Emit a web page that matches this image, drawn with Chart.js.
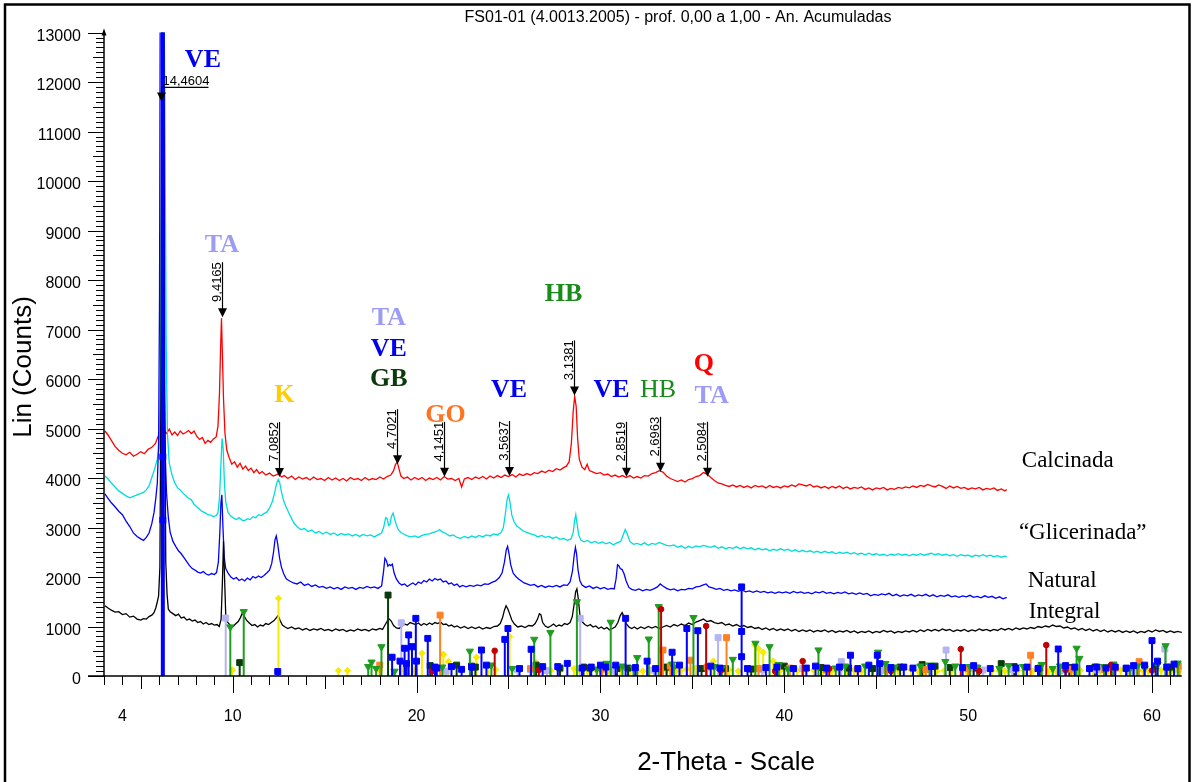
<!DOCTYPE html>
<html><head><meta charset="utf-8">
<script src="https://cdn.jsdelivr.net/npm/chart.js@4/dist/chart.umd.min.js"></script>
<style>html,body{margin:0;padding:0;background:#fff;overflow:hidden}canvas{display:block}</style>
</head><body>
<canvas id="c" width="1192" height="782"></canvas>
<script>
// ---------------- DATA ----------------
const calcinada = [[3.05,4950],[3.2,4880],[3.4,4760],[3.6,4640],[3.8,4560],[4.0,4500],[4.2,4470],[4.4,4520],[4.6,4440],[4.8,4480],[5.0,4530],[5.2,4490],[5.4,4580],[5.6,4620],[5.8,4700],[5.95,4850],[6.05,4980],[6.15,5090],[6.25,4960],[6.4,4900],[6.55,4990],[6.7,4870],[6.85,4930],[7.0,4860],[7.15,4950],[7.3,4890],[7.45,4920],[7.6,4960],[7.75,4900],[7.9,4950],[8.05,4840],[8.2,4780],[8.35,4820],[8.5,4700],[8.65,4760],[8.8,4720],[8.95,4790],[9.1,4830],[9.2,5050],[9.28,5700],[9.34,6600],[9.39,7230],[9.44,6500],[9.5,5600],[9.58,4900],[9.68,4560],[9.8,4420],[9.95,4280],[10.1,4330],[10.25,4220],[10.4,4300],[10.55,4180],[10.7,4240],[10.85,4150],[11.0,4200],[11.15,4110],[11.3,4170],[11.45,4090],[11.6,4130],[11.8,4060],[12.0,4100],[12.2,4040],[12.4,4070],[12.5,4090],[12.65,4020],[12.8,4050],[13.0,3990],[13.2,4040],[13.4,3970],[13.6,4020],[13.8,3980],[14.0,4010],[14.2,3960],[14.4,4020],[14.6,3970],[14.8,3990],[15.0,3950],[15.2,4010],[15.4,3960],[15.6,4000],[15.8,3950],[16.0,3990],[16.2,3940],[16.4,4010],[16.6,3970],[16.8,3990],[17.0,3950],[17.2,4010],[17.4,3960],[17.6,3990],[17.8,3970],[18.0,4020],[18.2,3980],[18.4,4030],[18.6,4060],[18.75,4150],[18.85,4270],[18.95,4320],[19.05,4180],[19.15,4040],[19.3,3990],[19.5,4020],[19.7,3960],[19.9,4010],[20.1,3970],[20.3,4010],[20.5,3950],[20.7,4000],[20.9,3970],[21.1,4010],[21.3,3960],[21.5,4030],[21.7,3980],[21.9,3990],[22.1,3950],[22.3,3990],[22.45,3820],[22.6,3980],[22.8,4010],[23.0,3970],[23.2,4020],[23.4,3990],[23.6,4030],[23.8,3980],[24.0,4040],[24.2,4000],[24.4,4050],[24.6,4010],[24.8,4060],[25.0,4030],[25.2,4070],[25.4,4020],[25.6,4080],[25.8,4050],[26.0,4090],[26.2,4060],[26.4,4110],[26.6,4090],[26.8,4140],[27.0,4110],[27.2,4160],[27.4,4130],[27.6,4190],[27.8,4160],[28.0,4210],[28.15,4240],[28.3,4330],[28.42,4700],[28.52,5350],[28.6,5650],[28.68,5450],[28.76,4800],[28.85,4380],[29.0,4220],[29.15,4170],[29.28,4280],[29.4,4150],[29.6,4120],[29.8,4090],[30.0,4110],[30.2,4060],[30.4,4080],[30.6,4030],[30.8,4060],[31.0,4020],[31.2,4050],[31.4,4010],[31.6,4050],[31.8,4000],[32.0,4030],[32.2,4000],[32.4,4050],[32.6,4040],[32.8,4090],[33.0,4110],[33.2,4150],[33.4,4120],[33.6,4040],[33.8,3990],[34.0,3960],[34.2,3930],[34.4,3960],[34.6,3920],[34.8,3970],[35.0,3990],[35.2,4030],[35.4,4050],[35.6,4110],[35.8,4080],[36.0,4010],[36.2,3950],[36.4,3900],[36.6,3880],[36.8,3850],[37.0,3830],[37.2,3860],[37.4,3820],[37.6,3850],[37.8,3810],[38.0,3840],[38.2,3800],[38.4,3850],[38.6,3820],[38.8,3840],[39.0,3800],[39.2,3850],[39.4,3810],[39.6,3830],[39.8,3800],[40.0,3840],[40.2,3820],[40.4,3860],[40.6,3830],[40.8,3880],[41.0,3860],[41.2,3840],[41.4,3870],[41.6,3820],[41.8,3840],[42.0,3800],[42.2,3830],[42.4,3790],[42.6,3830],[42.8,3800],[43.0,3840],[43.2,3790],[43.4,3820],[43.6,3780],[43.8,3810],[44.0,3790],[44.2,3820],[44.4,3770],[44.6,3800],[44.8,3760],[45.0,3800],[45.2,3780],[45.4,3810],[45.6,3760],[45.8,3790],[46.0,3770],[46.2,3810],[46.4,3790],[46.6,3820],[46.8,3800],[47.0,3840],[47.2,3810],[47.4,3850],[47.6,3830],[47.8,3870],[48.0,3840],[48.2,3820],[48.4,3860],[48.6,3830],[48.8,3790],[49.0,3840],[49.2,3800],[49.4,3830],[49.6,3790],[49.8,3810],[50.0,3770],[50.2,3800],[50.4,3780],[50.6,3810],[50.8,3760],[51.0,3790],[51.2,3770],[51.4,3800],[51.6,3750],[51.8,3780],[52.0,3740],[52.1,3770]];

const glicerinada = [[3.05,4040],[3.2,3990],[3.4,3900],[3.6,3820],[3.8,3740],[4.0,3690],[4.2,3640],[4.4,3600],[4.6,3630],[4.8,3660],[5.0,3690],[5.15,3710],[5.3,3760],[5.45,3840],[5.6,4010],[5.75,4180],[5.9,4380],[6.0,4600],[6.08,6200],[6.15,11000],[6.22,16000],[6.3,12000],[6.38,6800],[6.45,4900],[6.55,4300],[6.7,4060],[6.85,3900],[7.0,3800],[7.15,3760],[7.3,3690],[7.45,3640],[7.6,3590],[7.75,3560],[7.9,3470],[8.05,3420],[8.2,3370],[8.35,3320],[8.5,3300],[8.65,3260],[8.8,3250],[8.95,3220],[9.1,3240],[9.2,3300],[9.28,3600],[9.35,4200],[9.42,4800],[9.48,4600],[9.55,3900],[9.62,3520],[9.75,3300],[9.9,3230],[10.05,3190],[10.2,3160],[10.35,3200],[10.5,3150],[10.65,3140],[10.8,3180],[10.95,3160],[11.1,3220],[11.25,3200],[11.4,3260],[11.55,3240],[11.7,3280],[11.85,3310],[12.0,3390],[12.15,3520],[12.28,3700],[12.38,3880],[12.48,3970],[12.56,3900],[12.65,3720],[12.78,3530],[12.9,3420],[13.05,3300],[13.2,3180],[13.35,3080],[13.5,3020],[13.7,2960],[13.9,2980],[14.1,2920],[14.3,2950],[14.5,2890],[14.7,2920],[14.9,2870],[15.1,2910],[15.3,2860],[15.5,2890],[15.7,2840],[15.9,2880],[16.1,2850],[16.3,2870],[16.5,2830],[16.7,2860],[16.9,2820],[17.1,2860],[17.3,2830],[17.5,2850],[17.7,2810],[17.9,2850],[18.1,2890],[18.22,3020],[18.32,3200],[18.4,3180],[18.48,3040],[18.55,3060],[18.63,3220],[18.72,3290],[18.8,3180],[18.9,3050],[19.0,2960],[19.15,2900],[19.3,2870],[19.5,2830],[19.7,2810],[19.9,2830],[20.1,2800],[20.3,2840],[20.5,2860],[20.7,2870],[20.9,2900],[21.1,2920],[21.25,2960],[21.4,2910],[21.6,2880],[21.8,2830],[22.0,2850],[22.2,2800],[22.4,2780],[22.6,2820],[22.8,2790],[23.0,2830],[23.2,2800],[23.4,2840],[23.6,2810],[23.8,2850],[24.0,2830],[24.2,2870],[24.4,2850],[24.6,2900],[24.72,3000],[24.82,3250],[24.92,3560],[25.0,3660],[25.08,3520],[25.18,3250],[25.3,3120],[25.45,3030],[25.6,2990],[25.8,2930],[26.0,2900],[26.2,2870],[26.4,2850],[26.6,2810],[26.8,2840],[27.0,2800],[27.2,2820],[27.4,2780],[27.6,2810],[27.8,2760],[28.0,2780],[28.2,2740],[28.4,2770],[28.52,2900],[28.6,3150],[28.66,3260],[28.72,3100],[28.82,2850],[28.95,2740],[29.1,2710],[29.3,2740],[29.5,2690],[29.7,2720],[29.9,2680],[30.1,2710],[30.3,2670],[30.5,2700],[30.7,2650],[30.9,2690],[31.1,2720],[31.25,2860],[31.35,2960],[31.45,2880],[31.6,2720],[31.8,2660],[32.0,2680],[32.2,2650],[32.4,2690],[32.6,2640],[32.8,2680],[33.0,2660],[33.2,2700],[33.4,2670],[33.6,2640],[33.8,2630],[34.0,2650],[34.2,2600],[34.4,2630],[34.6,2580],[34.8,2620],[35.0,2590],[35.2,2630],[35.4,2610],[35.6,2640],[35.8,2620],[36.0,2600],[36.2,2630],[36.4,2580],[36.6,2610],[36.8,2570],[37.0,2600],[37.2,2580],[37.4,2610],[37.6,2570],[37.8,2600],[38.0,2570],[38.2,2590],[38.4,2550],[38.6,2580],[38.8,2550],[39.0,2570],[39.2,2530],[39.4,2560],[39.6,2540],[39.8,2570],[40.0,2540],[40.2,2560],[40.4,2520],[40.6,2550],[40.8,2510],[41.0,2540],[41.2,2510],[41.4,2530],[41.6,2500],[41.8,2520],[42.0,2490],[42.2,2520],[42.4,2490],[42.6,2510],[42.8,2470],[43.0,2500],[43.2,2480],[43.4,2500],[43.6,2470],[43.8,2490],[44.0,2460],[44.2,2480],[44.4,2450],[44.6,2480],[44.8,2450],[45.0,2470],[45.2,2440],[45.4,2460],[45.6,2430],[45.8,2460],[46.0,2440],[46.2,2470],[46.4,2440],[46.6,2460],[46.8,2430],[47.0,2460],[47.2,2440],[47.4,2470],[47.6,2440],[47.8,2460],[48.0,2480],[48.2,2450],[48.4,2470],[48.6,2440],[48.8,2460],[49.0,2430],[49.2,2450],[49.4,2420],[49.6,2450],[49.8,2430],[50.0,2440],[50.2,2410],[50.4,2440],[50.6,2420],[50.8,2450],[51.0,2420],[51.2,2440],[51.4,2410],[51.6,2430],[51.8,2400],[52.0,2420],[52.1,2410]];

const natural = [[3.05,3680],[3.2,3600],[3.4,3500],[3.6,3420],[3.8,3330],[4.0,3260],[4.2,3130],[4.4,3020],[4.6,2890],[4.8,2820],[5.0,2770],[5.15,2740],[5.3,2800],[5.45,2890],[5.6,3080],[5.72,3300],[5.82,3600],[5.9,3900],[5.97,4700],[6.02,7600],[6.06,14000],[6.11,17000],[6.16,14000],[6.21,9000],[6.26,6300],[6.32,4600],[6.4,3700],[6.5,3200],[6.6,2900],[6.75,2720],[6.9,2620],[7.05,2530],[7.2,2470],[7.35,2390],[7.5,2310],[7.65,2230],[7.8,2170],[7.95,2140],[8.1,2100],[8.25,2080],[8.4,2110],[8.55,2060],[8.7,2040],[8.85,2070],[9.0,2050],[9.12,2090],[9.22,2300],[9.3,2900],[9.36,3500],[9.41,3660],[9.47,3000],[9.54,2400],[9.62,2170],[9.75,2080],[9.9,2000],[10.05,1960],[10.2,1990],[10.35,1930],[10.5,1960],[10.65,1920],[10.8,1980],[10.95,1940],[11.1,2010],[11.25,1980],[11.4,2020],[11.55,1990],[11.7,2030],[11.85,2080],[12.0,2140],[12.12,2270],[12.22,2500],[12.3,2750],[12.37,2830],[12.45,2660],[12.55,2380],[12.65,2200],[12.78,2060],[12.92,1960],[13.1,1920],[13.3,1880],[13.5,1860],[13.7,1900],[13.9,1830],[14.1,1860],[14.3,1810],[14.5,1840],[14.7,1790],[14.9,1810],[15.1,1770],[15.3,1800],[15.5,1760],[15.7,1790],[15.9,1750],[16.1,1800],[16.3,1770],[16.5,1790],[16.7,1750],[16.9,1790],[17.1,1770],[17.3,1810],[17.5,1780],[17.7,1800],[17.9,1770],[18.1,1820],[18.2,2100],[18.28,2380],[18.36,2330],[18.44,2220],[18.52,2250],[18.6,2230],[18.68,2260],[18.78,2080],[18.9,1960],[19.05,1880],[19.2,1840],[19.35,1860],[19.5,1810],[19.65,1850],[19.8,1880],[19.95,1840],[20.1,1900],[20.25,1870],[20.4,1930],[20.55,1900],[20.7,1960],[20.85,1920],[21.0,1970],[21.15,1940],[21.3,1960],[21.45,1900],[21.6,1920],[21.75,1860],[21.9,1880],[22.05,1830],[22.2,1860],[22.35,1800],[22.5,1830],[22.7,1800],[22.9,1830],[23.1,1810],[23.3,1840],[23.5,1820],[23.7,1860],[23.9,1850],[24.1,1890],[24.3,1920],[24.5,1990],[24.65,2080],[24.78,2300],[24.88,2550],[24.95,2620],[25.03,2470],[25.12,2250],[25.25,2080],[25.4,2010],[25.55,1960],[25.7,1920],[25.85,1880],[26.0,1860],[26.2,1830],[26.4,1850],[26.6,1800],[26.8,1830],[27.0,1790],[27.2,1820],[27.4,1800],[27.6,1830],[27.8,1800],[28.0,1840],[28.2,1830],[28.35,1900],[28.48,2120],[28.57,2430],[28.64,2600],[28.7,2480],[28.78,2150],[28.88,1930],[29.0,1840],[29.2,1790],[29.4,1820],[29.6,1770],[29.8,1800],[30.0,1760],[30.2,1790],[30.4,1750],[30.6,1770],[30.75,1760],[30.85,1960],[30.93,2250],[31.0,2230],[31.08,2170],[31.18,2150],[31.28,2070],[31.4,1920],[31.55,1790],[31.7,1750],[31.9,1730],[32.1,1760],[32.3,1720],[32.5,1750],[32.7,1730],[32.9,1760],[33.1,1800],[33.25,1860],[33.4,1820],[33.6,1770],[33.8,1740],[34.0,1760],[34.2,1720],[34.4,1750],[34.6,1740],[34.8,1770],[35.0,1760],[35.2,1800],[35.4,1810],[35.6,1840],[35.75,1860],[35.9,1800],[36.1,1780],[36.3,1750],[36.5,1770],[36.7,1730],[36.9,1750],[37.1,1720],[37.3,1740],[37.5,1710],[37.7,1740],[37.9,1700],[38.1,1720],[38.3,1690],[38.5,1720],[38.7,1690],[38.9,1710],[39.1,1680],[39.3,1700],[39.5,1670],[39.7,1700],[39.9,1680],[40.1,1700],[40.3,1670],[40.5,1710],[40.7,1680],[40.9,1700],[41.1,1670],[41.3,1690],[41.5,1660],[41.7,1700],[41.9,1680],[42.1,1710],[42.3,1670],[42.5,1690],[42.7,1660],[42.9,1690],[43.1,1670],[43.3,1700],[43.5,1660],[43.7,1680],[43.9,1650],[44.1,1680],[44.3,1650],[44.5,1670],[44.7,1620],[44.9,1650],[45.1,1630],[45.3,1660],[45.5,1640],[45.7,1670],[45.9,1620],[46.1,1650],[46.3,1610],[46.5,1640],[46.7,1620],[46.9,1650],[47.1,1610],[47.3,1640],[47.5,1620],[47.7,1650],[47.9,1610],[48.1,1640],[48.3,1600],[48.5,1630],[48.7,1610],[48.9,1640],[49.1,1600],[49.3,1620],[49.5,1590],[49.7,1620],[49.9,1600],[50.1,1630],[50.3,1590],[50.5,1610],[50.7,1580],[50.9,1620],[51.1,1590],[51.3,1610],[51.5,1570],[51.7,1600],[51.9,1560],[52.1,1590]];

const integral = [[3.05,1420],[3.2,1380],[3.4,1330],[3.6,1290],[3.8,1300],[4.0,1240],[4.2,1260],[4.4,1190],[4.6,1210],[4.8,1150],[5.0,1130],[5.15,1160],[5.3,1150],[5.45,1200],[5.6,1230],[5.72,1280],[5.82,1380],[5.9,1500],[5.97,1620],[6.04,2200],[6.1,6000],[6.15,14000],[6.2,17000],[6.25,14000],[6.3,6000],[6.36,2300],[6.43,1650],[6.5,1350],[6.6,1300],[6.75,1260],[6.9,1220],[7.05,1250],[7.2,1170],[7.35,1190],[7.5,1130],[7.65,1150],[7.8,1110],[7.95,1130],[8.1,1080],[8.25,1100],[8.4,1050],[8.55,1080],[8.7,1040],[8.85,1060],[9.0,1030],[9.15,1040],[9.27,1000],[9.37,1150],[9.44,1900],[9.5,2720],[9.56,1950],[9.62,1250],[9.72,1090],[9.85,1030],[10.0,990],[10.15,1050],[10.3,1100],[10.42,1180],[10.52,1270],[10.62,1210],[10.75,1130],[10.9,1070],[11.05,1020],[11.2,1040],[11.35,990],[11.5,1030],[11.65,1010],[11.8,1060],[11.95,1040],[12.1,1080],[12.25,1120],[12.38,1180],[12.47,1220],[12.58,1120],[12.7,1030],[12.85,990],[13.0,960],[13.2,990],[13.4,950],[13.6,970],[13.8,930],[14.0,960],[14.2,920],[14.4,950],[14.6,930],[14.8,960],[15.0,920],[15.2,940],[15.4,910],[15.6,950],[15.8,920],[16.0,940],[16.2,900],[16.4,930],[16.6,910],[16.8,950],[17.0,920],[17.2,940],[17.4,910],[17.6,950],[17.8,930],[18.0,960],[18.15,940],[18.3,1040],[18.42,1120],[18.52,1150],[18.62,1110],[18.75,1020],[18.9,970],[19.05,960],[19.2,1010],[19.35,1050],[19.5,1030],[19.65,1080],[19.8,1060],[19.95,1040],[20.1,1070],[20.25,1020],[20.4,1060],[20.55,1030],[20.7,1070],[20.85,1040],[21.0,1080],[21.15,1060],[21.3,1090],[21.45,1040],[21.6,1050],[21.75,1010],[21.9,1030],[22.05,990],[22.2,1010],[22.4,970],[22.6,1000],[22.8,960],[23.0,990],[23.2,960],[23.4,990],[23.6,950],[23.8,980],[24.0,960],[24.2,1000],[24.4,1010],[24.55,1060],[24.68,1180],[24.78,1330],[24.87,1420],[24.96,1360],[25.06,1260],[25.18,1130],[25.32,1050],[25.5,990],[25.7,1010],[25.9,980],[26.1,1020],[26.3,1010],[26.45,1060],[26.58,1150],[26.68,1260],[26.76,1240],[26.86,1080],[27.0,1010],[27.15,980],[27.3,1010],[27.45,1050],[27.6,1000],[27.75,1030],[27.9,1010],[28.05,1060],[28.2,1040],[28.35,1080],[28.47,1200],[28.57,1450],[28.65,1700],[28.72,1760],[28.8,1550],[28.88,1250],[29.0,1100],[29.15,1040],[29.3,1010],[29.45,1040],[29.6,990],[29.75,1010],[29.9,960],[30.05,990],[30.2,950],[30.35,980],[30.5,930],[30.65,960],[30.8,990],[30.95,1080],[31.08,1220],[31.18,1280],[31.28,1200],[31.4,1060],[31.55,990],[31.7,960],[31.85,990],[32.0,950],[32.2,990],[32.4,960],[32.6,1000],[32.8,970],[33.0,1000],[33.2,960],[33.4,990],[33.6,1020],[33.8,990],[34.0,1040],[34.2,1010],[34.4,1050],[34.6,1020],[34.8,1070],[35.0,1040],[35.2,1090],[35.4,1120],[35.6,1150],[35.8,1100],[36.0,1120],[36.2,1080],[36.4,1060],[36.6,1080],[36.8,1030],[37.0,1050],[37.2,1010],[37.4,1040],[37.6,1000],[37.8,1020],[38.0,980],[38.2,1000],[38.4,960],[38.6,980],[38.8,940],[39.0,970],[39.2,930],[39.4,960],[39.6,920],[39.8,950],[40.0,920],[40.2,950],[40.4,910],[40.6,940],[40.8,900],[41.0,930],[41.2,900],[41.4,930],[41.6,890],[41.8,920],[42.0,900],[42.2,930],[42.4,890],[42.6,920],[42.8,880],[43.0,910],[43.2,890],[43.4,920],[43.6,880],[43.8,910],[44.0,870],[44.2,900],[44.4,880],[44.6,910],[44.8,870],[45.0,900],[45.2,880],[45.4,920],[45.6,890],[45.8,910],[46.0,870],[46.2,900],[46.4,880],[46.6,910],[46.8,890],[47.0,920],[47.2,890],[47.4,930],[47.6,900],[47.8,940],[48.0,910],[48.2,940],[48.4,910],[48.6,950],[48.8,920],[49.0,940],[49.2,900],[49.4,930],[49.6,910],[49.8,940],[50.0,900],[50.2,930],[50.4,910],[50.6,950],[50.8,920],[51.0,940],[51.2,910],[51.4,940],[51.6,920],[51.8,960],[52.0,930],[52.2,960],[52.4,930],[52.6,970],[52.8,940],[53.0,970],[53.2,950],[53.4,980],[53.6,960],[53.8,1000],[54.0,980],[54.2,1010],[54.4,990],[54.6,1030],[54.8,1000],[55.0,1010],[55.2,970],[55.4,990],[55.6,950],[55.8,970],[56.0,930],[56.2,960],[56.4,920],[56.6,950],[56.8,910],[57.0,940],[57.2,900],[57.4,930],[57.6,890],[57.8,920],[58.0,890],[58.2,920],[58.4,880],[58.6,910],[58.8,880],[59.0,910],[59.2,870],[59.4,900],[59.6,880],[59.8,920],[60.0,890],[60.2,930],[60.4,900],[60.6,920],[60.8,880],[61.0,910],[61.2,880],[61.4,900],[61.6,880],[61.8,900]];

// reference stick patterns [2theta, counts]
const veSticks = [[6.2,15000],[6.2,4430],[6.2,3150],[12.45,90],[18.67,380],[19.1,300],[19.35,560],[19.45,250],[19.57,830],[19.75,590],[19.96,1165],[20.0,300],[20.61,760],[21.0,180],[21.1,160],[21.9,190],[22.45,135],[23.0,180],[23.53,525],[23.8,220],[24.8,740],[24.97,960],[25.6,150],[26.23,540],[26.86,190],[27.68,190],[28.2,255],[29.0,160],[29.5,180],[30.0,220],[30.3,180],[30.83,220],[31.37,1165],[31.9,170],[32.54,300],[33.0,150],[33.9,480],[34.3,220],[34.7,960],[35.3,915],[36.0,200],[36.5,160],[37.68,1800],[37.68,900],[37.68,390],[38.0,150],[39.0,170],[39.6,180],[40.5,150],[41.2,160],[41.7,200],[42.3,160],[43.0,180],[43.6,420],[44.0,150],[44.6,220],[45.06,420],[45.2,250],[45.8,170],[46.5,180],[47.0,160],[48.0,190],[49.7,170],[50.3,210],[51.2,150],[52.6,160],[53.2,180],[53.8,150],[54.9,545],[55.3,210],[55.8,180],[56.6,150],[57.0,180],[57.5,160],[58.0,180],[58.6,160],[59.0,210],[59.6,220],[60.0,715],[60.3,300],[60.8,180],[61.2,240]];
const taSticks = [[9.62,1170],[19.17,1075],[21.6,100],[25.5,130],[26.2,130],[27.1,110],[28.9,1165],[30.7,120],[32.9,120],[36.4,775],[38.8,130],[41.0,150],[43.1,290],[45.3,110],[48.8,525],[50.8,120],[52.4,130],[55.0,100],[57.0,120],[58.9,110],[60.7,545]];
const hbSticks = [[9.87,990],[10.6,1300],[17.37,190],[17.55,280],[17.8,150],[18.09,590],[18.8,95],[19.75,610],[21.4,180],[22.9,500],[24.07,220],[25.2,150],[26.4,740],[27.28,875],[28.72,1500],[29.8,140],[30.34,255],[30.56,1085],[31.2,200],[31.8,160],[32.0,370],[32.63,745],[33.17,1400],[33.9,240],[34.0,180],[35.06,1180],[36.2,190],[36.6,160],[37.2,335],[38.43,660],[39.2,590],[39.7,230],[40.2,140],[41.86,525],[42.8,160],[43.3,200],[44.4,200],[45.1,480],[45.5,250],[46.0,180],[47.4,200],[47.9,220],[48.76,290],[49.3,200],[50.1,190],[50.5,170],[51.7,150],[52.2,210],[53.0,190],[54.0,230],[54.6,150],[55.0,200],[55.9,560],[56.05,355],[57.4,190],[57.9,240],[58.8,150],[59.2,200],[59.6,160],[60.3,230],[60.74,610],[61.4,260]];
const gbSticks = [[10.38,270],[18.45,1635],[20.74,210],[22.18,220],[22.99,200],[23.2,180],[26.5,220],[27.8,160],[29.08,180],[29.44,160],[30.9,150],[31.5,160],[33.6,180],[35.5,150],[36.8,150],[38.2,140],[40.0,200],[42.0,170],[43.5,160],[44.8,150],[46.3,180],[47.5,230],[48.2,200],[49.0,170],[50.5,160],[51.8,250],[52.5,190],[53.9,160],[55.5,170],[56.9,180],[57.9,180],[58.6,150],[60.2,200],[61.0,180]];
const kSticks = [[9.98,120],[12.49,1570],[15.75,110],[16.24,110],[18.0,120],[19.3,130],[19.9,120],[20.29,460],[21.46,440],[21.73,290],[23.26,380],[23.9,200],[24.3,130],[25.06,795],[26.5,270],[27.3,110],[27.8,100],[28.57,150],[28.9,100],[29.3,120],[29.8,110],[30.4,100],[30.8,110],[31.1,120],[31.6,110],[32.0,100],[32.3,100],[32.7,120],[33.3,110],[33.6,110],[34.1,100],[34.4,120],[34.7,140],[35.2,160],[35.8,180],[36.15,300],[36.6,110],[37.0,120],[37.5,100],[38.4,625],[38.6,550],[38.85,480],[39.4,300],[39.8,120],[40.3,120],[40.7,110],[41.0,110],[41.6,120],[42.1,110],[42.6,100],[43.0,100],[43.4,110],[43.8,120],[44.2,100],[44.8,110],[45.5,140],[45.9,120],[46.2,110],[46.9,130],[47.3,100],[47.6,110],[48.3,100],[48.7,110],[49.1,120],[49.9,110],[50.3,120],[50.6,100],[51.3,110],[51.7,100],[52.0,100],[52.7,110],[53.1,110],[53.5,100],[53.9,120],[54.4,110],[54.8,100],[55.3,120],[55.7,110],[56.1,110],[56.8,130],[57.2,120],[57.6,110],[58.3,120],[58.7,100],[59.1,100],[59.5,110],[59.8,110],[60.5,120],[60.9,120],[61.2,100],[61.5,110]];
const goSticks = [[18.0,220],[21.28,1230],[26.2,150],[30.1,140],[33.4,525],[33.8,200],[34.9,320],[35.8,180],[36.86,775],[38.6,150],[40.3,160],[42.3,120],[44.0,140],[45.6,130],[47.7,130],[50.0,150],[53.4,420],[55.6,140],[57.4,130],[58.0,160],[59.3,290],[61.5,200]];
const qSticks = [[20.85,100],[24.25,510],[26.65,120],[33.3,1350],[35.75,1010],[36.55,110],[39.5,100],[41.0,300],[42.45,150],[45.8,100],[49.6,545],[50.6,100],[54.25,625],[55.3,120],[57.77,220],[60.0,110]];

// axis tick labels
const xTickLabels = [4, 10, 20, 30, 40, 50, 60];
const yTickStep = 1000;

// d-spacing annotations
const dLabels = ['14,4604','9,4165','7,0852','4,7021','4,1451','3,5637','3,1381','2,8519','2,6963','2,5084'];
const dTheta  = [6.11, 9.42, 12.5, 18.93, 21.5, 25.04, 28.54, 31.4, 33.25, 35.8];
const dTip    = [11610, 7250, 4020, 4280, 4025, 4040, 5670, 4025, 4125, 4025];

// phase labels
const phaseText  = ['VE','TA','K','TA','VE','GB','GO','VE','HB','VE','HB','Q','TA'];
const phaseTheta = [8.38, 9.41, 12.81, 18.49, 18.49, 18.49, 21.57, 25.03, 28.0, 30.6, 33.14, 35.62, 36.05];
const phaseCount = [12296, 8560, 5530, 7090, 6460, 5855, 5130, 5635, 7570, 5635, 5635, 6160, 5510];

const seriesNames = ['Calcinada','\u201CGlicerinada\u201D','Natural','Integral'];
const seriesNameTheta = [52.92, 52.76, 53.24, 53.3];
const seriesNameCount = [4220, 2770, 1800, 1170];

// ---------------- STYLE ----------------
const SANS = "'Liberation Sans', Arial, sans-serif";
const SERIF = "'Liberation Serif', 'Times New Roman', serif";
const phaseColor = {VE:'#0000F0', TA:'#9C9CF6', K:'#FFCC00', GB:'#0B3A0B', GO:'#FF7420', HB:'#1A8A1A', Q:'#FF0000'};
const phaseBold = [true,true,true,true,true,true,true,true,true,true,false,true,true];

const toXY = arr => arr.map(([x,y]) => ({x, y}));
function stickData(list){ const d=[]; list.forEach(([t,h])=>{ d.push({x:t,y:0},{x:t,y:h},{x:t,y:null}); }); return d; }

function curve(label, data, color, order){
  return {type:'line', label, data: toXY(data), borderColor: color, borderWidth: 1.3,
    pointRadius: 0, tension: 0, fill: false, order};
}
function stickSet(label, list, color, style, r, rot, width){
  return {type:'line', label, data: stickData(list), borderColor: color, backgroundColor: color,
    borderWidth: width || 2, spanGaps: false, tension: 0, fill: false, order: 0,
    pointStyle: style, pointRotation: rot || 0,
    pointBackgroundColor: color, pointBorderColor: color, pointBorderWidth: 1,
    pointRadius: c => (c.raw && c.raw.y > 0 ? r : 0), pointHoverRadius: 0};
}

const veMain = veSticks.filter(s => s[1] > 10000);
const veRest = veSticks.filter(s => s[1] <= 10000);

const datasets = [
  stickSet('VE main', veMain, '#0000FF', 'rect', 4.2, 0, 4),
  stickSet('VE', veRest, '#0000FF', 'rect', 4.2),
  stickSet('Q', qSticks, '#C00000', 'circle', 2.8),
  stickSet('HB', hbSticks, '#1E9E1E', 'triangle', 4.2, 180),
  stickSet('GO', goSticks, '#FF8020', 'rect', 4.2),
  stickSet('TA', taSticks, '#B4B4F2', 'rect', 4.2),
  stickSet('GB', gbSticks, '#0B3B0B', 'rect', 4.2),
  stickSet('K', kSticks, '#F5EA00', 'rectRot', 3.2),
  curve('Integral', integral, '#000000', 1),
  curve('Natural', natural, '#0000FF', 2),
  curve('Glicerinada', glicerinada, '#00DCDC', 3),
  curve('Calcinada', calcinada, '#FF0000', 4)
];

// ---------------- DECORATION PLUGIN ----------------
const decor = {
  id: 'decor',
  afterDraw(chart){
    const ctx = chart.ctx, xs = chart.scales.x, ys = chart.scales.y, ca = chart.chartArea;
    ctx.save();
    ctx.strokeStyle = '#000'; ctx.fillStyle = '#000';
    // outer frame
    ctx.lineWidth = 2.5;
    ctx.beginPath(); ctx.moveTo(5, 790); ctx.lineTo(5, 4.5); ctx.lineTo(1189.5, 4.5); ctx.lineTo(1189.5, 790); ctx.stroke();
    // axes lines
    ctx.lineWidth = 1.5;
    ctx.beginPath(); ctx.moveTo(ca.left, ca.bottom); ctx.lineTo(ca.left, ca.top - 1); ctx.stroke();
    ctx.beginPath(); ctx.moveTo(ca.left, ca.top - 4); ctx.lineTo(ca.left - 2.5, ca.top + 3); ctx.lineTo(ca.left + 2.5, ca.top + 3); ctx.closePath(); ctx.fill();
    ctx.beginPath(); ctx.moveTo(ca.left - 16, ca.bottom); ctx.lineTo(ca.right, ca.bottom); ctx.stroke();
    // y ticks
    ctx.lineWidth = 1;
    for (let v = 0; v <= ys.max + 1; v += 100){
      const y = Math.round(ys.getPixelForValue(v)) + 0.5;
      const len = v % 1000 === 0 ? 16 : (v % 500 === 0 ? 11 : 8);
      ctx.beginPath(); ctx.moveTo(ca.left - len, y); ctx.lineTo(ca.left, y); ctx.stroke();
    }
    // x ticks
    for (let t = Math.ceil(xs.min); t <= xs.max; t++){
      const x = Math.round(xs.getPixelForValue(t)) + 0.5;
      const len = t % 10 === 0 ? 17 : (t % 5 === 0 ? 13 : 9);
      ctx.beginPath(); ctx.moveTo(x, ca.bottom); ctx.lineTo(x, ca.bottom + len); ctx.stroke();
    }
    // d-spacing arrows
    ctx.font = '13px ' + SANS;
    dLabels.forEach((lab, i) => {
      const x = Math.round(xs.getPixelForValue(dTheta[i])) + 0.5;
      const yTip = ys.getPixelForValue(dTip[i]);
      ctx.lineWidth = 1.2;
      if (i === 0){
        const yl = yTip - 14;
        ctx.beginPath(); ctx.moveTo(x, yl); ctx.lineTo(x + 47, yl); ctx.moveTo(x, yl); ctx.lineTo(x, yTip - 7); ctx.stroke();
        ctx.textAlign = 'left'; ctx.textBaseline = 'alphabetic';
        ctx.fillText(lab, x + 1, yl - 2);
      } else {
        const yTop = yTip - 55;
        ctx.beginPath(); ctx.moveTo(x, yTop); ctx.lineTo(x, yTip - 7); ctx.stroke();
        ctx.save(); ctx.translate(x - 2, yTop); ctx.rotate(-Math.PI/2);
        ctx.textAlign = 'right'; ctx.textBaseline = 'alphabetic';
        ctx.fillText(lab, 0, 0); ctx.restore();
      }
      ctx.beginPath(); ctx.moveTo(x - 4.5, yTip - 9); ctx.lineTo(x + 4.5, yTip - 9); ctx.lineTo(x, yTip); ctx.closePath(); ctx.fill();
    });
    // phase labels
    ctx.textAlign = 'center'; ctx.textBaseline = 'alphabetic';
    phaseText.forEach((txt, i) => {
      ctx.font = (phaseBold[i] ? 'bold ' : '') + '26px ' + SERIF;
      ctx.fillStyle = phaseColor[txt];
      ctx.fillText(txt, xs.getPixelForValue(phaseTheta[i]), ys.getPixelForValue(phaseCount[i]));
    });
    // series names
    ctx.fillStyle = '#000'; ctx.textAlign = 'left'; ctx.font = '23px ' + SERIF;
    seriesNames.forEach((n, i) => ctx.fillText(n, xs.getPixelForValue(seriesNameTheta[i]), ys.getPixelForValue(seriesNameCount[i])));
    // titles
    ctx.font = '16px ' + SANS; ctx.textAlign = 'center';
    ctx.fillText('FS01-01 (4.0013.2005) - prof. 0,00 a 1,00 - An. Acumuladas', 678, 22);
    ctx.font = '26px ' + SANS;
    ctx.fillText('2-Theta - Scale', 726, 770);
    ctx.save(); ctx.translate(31, 367); ctx.rotate(-Math.PI/2);
    ctx.textBaseline = 'alphabetic'; ctx.fillText('Lin (Counts)', 0, 0); ctx.restore();
    ctx.restore();
  }
};

new Chart(document.getElementById('c'), {
  data: { datasets },
  options: {
    responsive: false, animation: false, devicePixelRatio: 1,
    layout: { padding: { top: 32, right: 4, left: 0, bottom: 0 } },
    plugins: { legend: { display: false }, tooltip: { enabled: false }, title: { display: false } },
    scales: {
      x: {
        type: 'linear', min: 3, max: 61.62,
        afterBuildTicks: s => { s.ticks = xTickLabels.map(v => ({value: v})); },
        afterFit: s => { s.height = 106; },
        grid: { display: true, drawOnChartArea: false, drawTicks: false },
        border: { display: false },
        ticks: { autoSkip: false, maxRotation: 0, padding: 31, color: '#000',
          font: { family: SANS, size: 16 }, callback: v => String(v) }
      },
      y: {
        type: 'linear', min: 0, max: 13000,
        afterFit: s => { s.width = 104; },
        grid: { display: true, drawOnChartArea: false, drawTicks: false },
        border: { display: false },
        ticks: { stepSize: yTickStep, padding: 23, labelOffset: 4, color: '#000',
          font: { family: SANS, size: 16 }, callback: v => String(v) }
      }
    }
  },
  plugins: [decor]
});
</script>
</body></html>
